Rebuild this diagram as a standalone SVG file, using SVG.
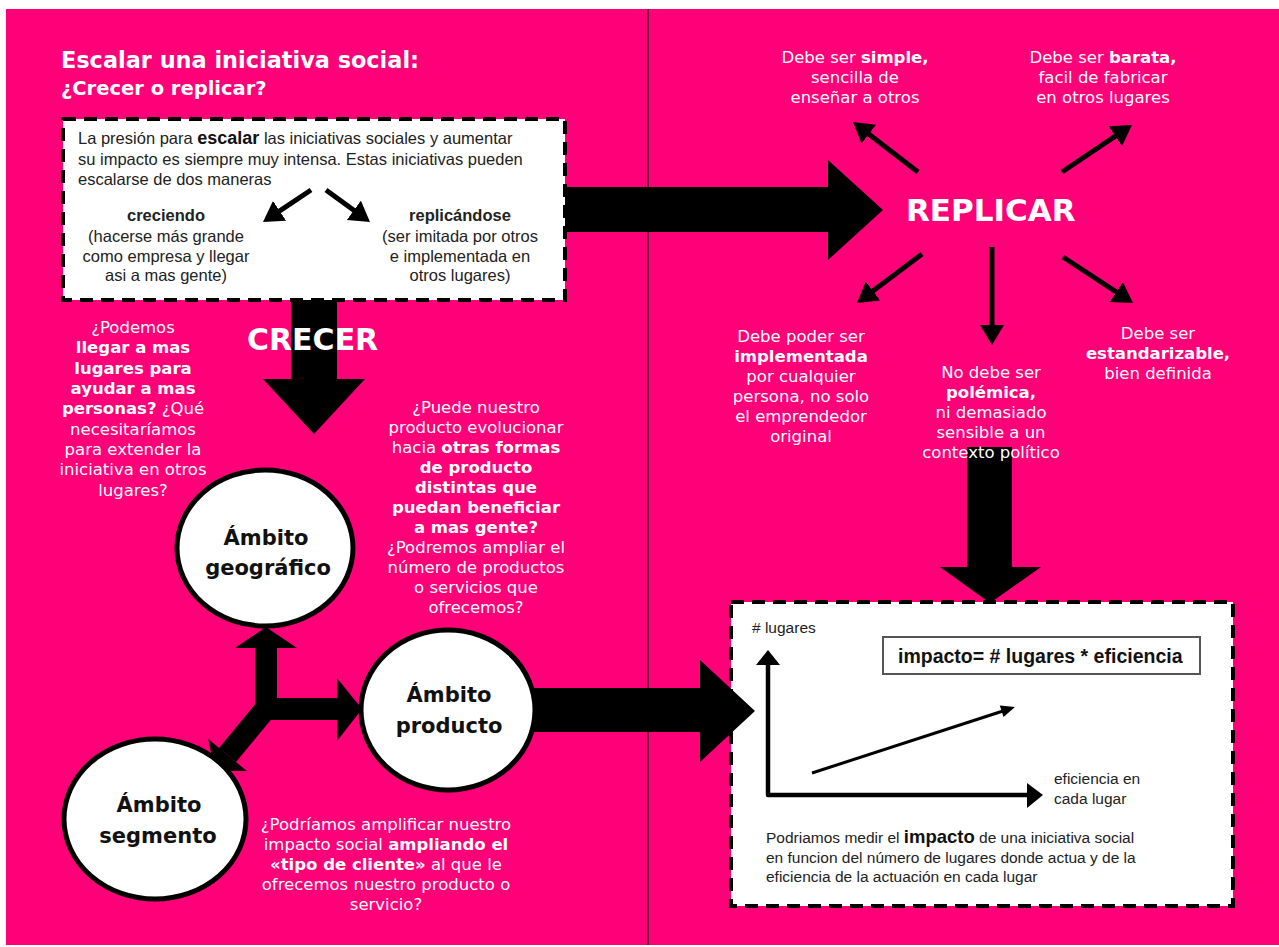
<svg xmlns="http://www.w3.org/2000/svg" width="1279" height="947" viewBox="0 0 1279 947">
<defs>
<style>
.w{font-family:"DejaVu Sans",Verdana,sans-serif;font-size:16.5px;fill:#fff;text-anchor:middle}
.b{font-weight:bold}
.box{fill:#fff;stroke:#000;stroke-width:4;stroke-dasharray:13 8}
.bt{font-family:"Liberation Sans",Arial,sans-serif;font-size:16.5px;fill:#222}
.bt2{font-family:"Liberation Sans",Arial,sans-serif;font-size:15.5px;fill:#222}
.cir{fill:#fff;stroke:#000;stroke-width:5}
.ct{font-family:"DejaVu Sans",Verdana,sans-serif;font-size:21px;font-weight:bold;fill:#111;text-anchor:middle}
.big{font-family:"DejaVu Sans",Verdana,sans-serif;font-weight:bold;fill:#fff}
.sa{stroke:#000;stroke-width:5;fill:none;marker-end:url(#ah)}
</style>
<marker id="ah" markerUnits="userSpaceOnUse" markerWidth="22" markerHeight="24" refX="8" refY="12" orient="auto">
<path d="M0,0 L20,12 L0,24 z" fill="#000"/>
</marker>
</defs>
<rect x="0" y="0" width="1279" height="947" fill="#fff"/>
<rect x="6" y="9" width="1273" height="936" fill="#ff0078"/>
<line x1="648" y1="9" x2="648" y2="945" stroke="#3a0018" stroke-width="1.5"/>

<g id="title">
<text x="61" y="68" class="big" font-size="22.4px">Escalar una iniciativa social:</text>
<text x="61" y="95" class="big" font-size="19.5px">¿Crecer o replicar?</text>
</g>

<g id="intro-box">
<rect class="box" x="63" y="119" width="502" height="181"/>
<text class="bt" x="78" y="144">La presión para <tspan font-weight="bold" font-size="18px" fill="#111">escalar</tspan> las iniciativas sociales y aumentar</text>
<text class="bt" x="78" y="165">su impacto es siempre muy intensa. Estas iniciativas pueden</text>
<text class="bt" x="78" y="185">escalarse de dos maneras</text>
<text class="bt b" x="166" y="221" text-anchor="middle" font-size="18.5px" fill="#111">creciendo</text>
<text class="bt" x="166" y="242" text-anchor="middle">(hacerse más grande</text>
<text class="bt" x="166" y="262" text-anchor="middle">como empresa y llegar</text>
<text class="bt" x="166" y="281" text-anchor="middle">asi a mas gente)</text>
<text class="bt b" x="460" y="221" text-anchor="middle" font-size="18.5px" fill="#111">replicándose</text>
<text class="bt" x="460" y="242" text-anchor="middle">(ser imitada por otros</text>
<text class="bt" x="460" y="262" text-anchor="middle">e implementada en</text>
<text class="bt" x="460" y="281" text-anchor="middle">otros lugares)</text>
</g>

<g id="impact-box">
<rect class="box" x="731" y="602" width="502" height="304"/>
<text class="bt2" x="752" y="633">#  lugares</text>
<rect x="883" y="637" width="317" height="37" fill="#fff" stroke="#555" stroke-width="2"/>
<text x="898" y="663" font-family="Liberation Sans, Arial, sans-serif" font-size="19.5px" font-weight="bold" fill="#111">impacto= # lugares * eficiencia</text>
<polyline points="768,661 768,795 1030,795" fill="none" stroke="#000" stroke-width="4.5" stroke-linejoin="round"/>
<polygon points="756,665 780,665 768,650" fill="#000"/>
<polygon points="1027,783 1027,808 1043,795" fill="#000"/>
<line x1="812" y1="773" x2="1003" y2="711" stroke="#000" stroke-width="3"/>
<polygon points="1015,707 1003.5,717 999.8,705.6" fill="#000"/>
<text class="bt2" x="1054" y="784">eficiencia en</text>
<text class="bt2" x="1054" y="804">cada lugar</text>
<text class="bt2" x="766" y="843">Podriamos medir el <tspan font-weight="bold" font-size="18.5px" fill="#111">impacto</tspan> de una iniciativa social</text>
<text class="bt2" x="766" y="863">en funcion del número de lugares donde actua y de la</text>
<text class="bt2" x="766" y="882">eficiencia de la actuación en cada lugar</text>
</g>

<g id="connectors">
<polygon points="565,187 828,187 828,160 883,210 828,260 828,232 565,232" fill="#000"/>
<polygon points="291,300 337,300 337,379 365,379 314,434 263,379 291,379" fill="#000"/>
<polygon points="520,688 700,688 700,660 755,711 700,762 700,732 520,732" fill="#000"/>
<polygon points="967,447 1012,447 1012,567 1041,567 990,603 940,567 967,567" fill="#000"/>
<rect x="255" y="645" width="22" height="67" fill="#000"/>
<polygon points="235,648 297,648 266,627" fill="#000"/>
<rect x="262" y="698" width="76" height="22" fill="#000"/>
<polygon points="337,678 337,741 362,709" fill="#000"/>
<polygon points="276.5,713 259.5,699 219,748 236,762" fill="#000"/>
<polygon points="246.8,770.9 208.2,739.1 214.8,770.4" fill="#000"/>
<line class="sa" x1="311" y1="190" x2="273" y2="215.3"/>
<line class="sa" x1="326" y1="190" x2="360.3" y2="215"/>
<line class="sa" x1="918" y1="172" x2="862.5" y2="129.3"/>
<line class="sa" x1="1062" y1="172" x2="1122" y2="131.7"/>
<line class="sa" x1="922" y1="254" x2="866.6" y2="295.8"/>
<line class="sa" x1="992" y1="247" x2="992" y2="333"/>
<line class="sa" x1="1063" y1="257" x2="1123" y2="296.4"/>
</g>

<g id="geo">
<ellipse class="cir" cx="265" cy="548" rx="88" ry="78"/>
<text class="ct" x="266" y="545">Ámbito</text>
<text class="ct" x="268" y="575">geográfico</text>
</g>
<g id="producto">
<ellipse class="cir" cx="448" cy="710" rx="87" ry="80"/>
<text class="ct" x="449" y="702">Ámbito</text>
<text class="ct" x="449" y="733">producto</text>
</g>
<g id="segmento">
<ellipse class="cir" cx="155" cy="819" rx="91" ry="80"/>
<text class="ct" x="159" y="812">Ámbito</text>
<text class="ct" x="158" y="843">segmento</text>
</g>

<g id="crecer">
<text x="247" y="350" class="big" font-size="30px">CRECER</text>
</g>
<g id="replicar">
<text x="906" y="221" class="big" font-size="31px">REPLICAR</text>
</g>

<g id="q-geo">
<text class="w" x="133" y="333">¿Podemos</text>
<text class="w b" x="133" y="353">llegar a mas</text>
<text class="w b" x="133" y="374">lugares para</text>
<text class="w b" x="133" y="394">ayudar a mas</text>
<text class="w" x="133" y="414"><tspan font-weight="bold">personas?</tspan> ¿Qué</text>
<text class="w" x="133" y="435">necesitaríamos</text>
<text class="w" x="133" y="455">para extender la</text>
<text class="w" x="133" y="475">iniciativa en otros</text>
<text class="w" x="133" y="496">lugares?</text>
</g>

<g id="q-producto">
<text class="w" x="476" y="413">¿Puede nuestro</text>
<text class="w" x="476" y="433">producto evolucionar</text>
<text class="w" x="476" y="453">hacia <tspan font-weight="bold">otras formas</tspan></text>
<text class="w b" x="476" y="473">de producto</text>
<text class="w b" x="476" y="493">distintas que</text>
<text class="w b" x="476" y="513">puedan beneficiar</text>
<text class="w b" x="476" y="533">a mas gente?</text>
<text class="w" x="476" y="553">¿Podremos ampliar el</text>
<text class="w" x="476" y="573">número de productos</text>
<text class="w" x="476" y="593">o servicios que</text>
<text class="w" x="476" y="613">ofrecemos?</text>
</g>

<g id="q-segmento">
<text class="w" x="386" y="830">¿Podríamos amplificar nuestro</text>
<text class="w" x="386" y="850">impacto social <tspan font-weight="bold">ampliando el</tspan></text>
<text class="w" x="386" y="870"><tspan font-weight="bold">«tipo de cliente»</tspan> al que le</text>
<text class="w" x="386" y="890">ofrecemos nuestro producto o</text>
<text class="w" x="386" y="910">servicio?</text>
</g>

<g id="r-simple">
<text class="w" x="855" y="63">Debe ser <tspan font-weight="bold">simple,</tspan></text>
<text class="w" x="855" y="83">sencilla de</text>
<text class="w" x="855" y="103">enseñar a otros</text>
</g>
<g id="r-barata">
<text class="w" x="1103" y="63">Debe ser <tspan font-weight="bold">barata,</tspan></text>
<text class="w" x="1103" y="83">facil de fabricar</text>
<text class="w" x="1103" y="103">en otros lugares</text>
</g>
<g id="r-implementada">
<text class="w" x="801" y="342">Debe poder ser</text>
<text class="w b" x="801" y="362">implementada</text>
<text class="w" x="801" y="382">por cualquier</text>
<text class="w" x="801" y="402">persona, no solo</text>
<text class="w" x="801" y="422">el emprendedor</text>
<text class="w" x="801" y="442">original</text>
</g>
<g id="r-polemica">
<text class="w" x="991" y="378">No debe ser</text>
<text class="w b" x="991" y="398">polémica,</text>
<text class="w" x="991" y="418">ni demasiado</text>
<text class="w" x="991" y="438">sensible a un</text>
<text class="w" x="991" y="458">contexto político</text>
</g>
<g id="r-estandarizable">
<text class="w" x="1158" y="339">Debe ser</text>
<text class="w b" x="1158" y="359">estandarizable,</text>
<text class="w" x="1158" y="379">bien definida</text>
</g>
</svg>
